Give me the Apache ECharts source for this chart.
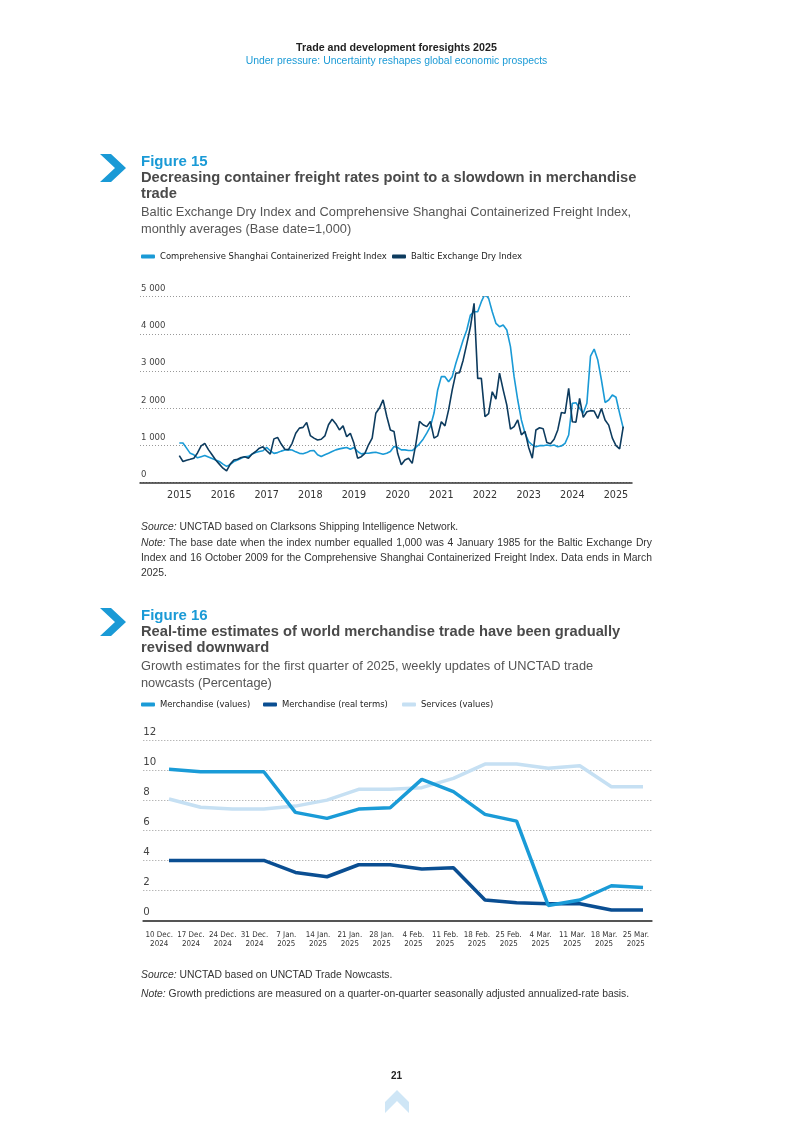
<!DOCTYPE html>
<html><head><meta charset="utf-8">
<script src="https://cdn.jsdelivr.net/npm/echarts@6/dist/echarts.min.js"></script>
<style>
html,body{margin:0;padding:0;background:#fff;}
#page{position:relative;width:793px;height:1121px;overflow:hidden;font-family:'Liberation Sans',Arial,sans-serif;}
#chart{position:absolute;left:0;top:0;width:793px;height:1121px;}
.t{position:absolute;white-space:nowrap;}
.fig{color:#1a9ad6;font-weight:bold;font-size:15px;line-height:16px;left:141px;}
.ttl{color:#4a4a4a;font-weight:bold;font-size:14.7px;line-height:16px;left:141px;}
.sub{color:#555;font-size:12.8px;line-height:17px;left:141px;}
.src{color:#333;font-size:10.35px;line-height:15px;left:141px;}
.jl{display:block;width:511px;text-align:justify;text-align-last:justify;}
</style></head>
<body><div id="page">
<div id="chart"></div>
<div class="t" style="left:0;width:793px;text-align:center;top:40px;font-weight:bold;font-size:10.7px;line-height:14px;color:#222">Trade and development foresights 2025</div>
<div class="t" style="left:0;width:793px;text-align:center;top:54px;font-size:10.4px;line-height:14px;color:#1a9ad6">Under pressure: Uncertainty reshapes global economic prospects</div>

<svg class="t" style="left:0;top:0" width="793" height="1121">
<polygon points="100,154 111,154 126,168 111,182 100,182 115,168" fill="#1a9ad6"/>
<polygon points="100,608 111,608 126,622 111,636 100,636 115,622" fill="#1a9ad6"/>
<polygon points="385,1102 397,1090 409,1102 409,1113 397,1101 385,1113" fill="#cfe6f6"/>
</svg>

<div class="t fig" style="top:153px">Figure 15</div>
<div class="t ttl" style="top:169px">Decreasing container freight rates point to a slowdown in merchandise<br>trade</div>
<div class="t sub" style="top:202.5px">Baltic Exchange Dry Index and Comprehensive Shanghai Containerized Freight Index,<br>monthly averages (Base date=1,000)</div>

<div class="t src" style="top:518.5px"><i>Source:</i> UNCTAD based on Clarksons Shipping Intelligence Network.</div>
<div class="t src" style="top:534.5px">
<span class="jl"><i>Note:</i> The base date when the index number equalled 1,000 was 4 January 1985 for the Baltic Exchange Dry</span>
<span class="jl">Index and 16 October 2009 for the Comprehensive Shanghai Containerized Freight Index. Data ends in March</span>
<span style="display:block">2025.</span>
</div>

<div class="t fig" style="top:607px">Figure 16</div>
<div class="t ttl" style="top:623px">Real-time estimates of world merchandise trade have been gradually<br>revised downward</div>
<div class="t sub" style="top:656.5px">Growth estimates for the first quarter of 2025, weekly updates of UNCTAD trade<br>nowcasts (Percentage)</div>

<div class="t src" style="top:966.5px"><i>Source:</i> UNCTAD based on UNCTAD Trade Nowcasts.</div>
<div class="t src" style="top:985.5px"><i>Note:</i> Growth predictions are measured on a quarter-on-quarter seasonally adjusted annualized-rate basis.</div>

<div class="t" style="left:0;width:793px;text-align:center;top:1069px;font-weight:bold;font-size:10px;line-height:14px;color:#222">21</div>
</div>
<script>
// ---- Figure 15 data (monthly, Jan 2015 - Mar 2025) ----
const yearLabels = ['2015','2016','2017','2018','2019','2020','2021','2022','2023','2024','2025'];
const ccfi = [
 1060,1060,920,780,740,660,690,720,680,640,600,560,
 490,430,480,560,600,650,690,700,760,800,830,850,
 940,850,780,800,840,870,880,870,820,780,770,800,
 850,856,740,694,740,784,830,874,900,920,937,892,
 937,829,766,784,784,800,810,784,757,784,829,964,
 937,874,874,856,856,937,1036,1162,1324,1504,1865,2487,
 2846,2846,2711,2846,3205,3519,3833,4102,4506,4596,4596,4865,
 5072,4955,4596,4282,4192,4237,4102,3653,2846,2217,1679,1320,
 1095,1005,960,987,987,1005,987,1005,960,978,1050,1275,
 2127,2145,1993,1858,2127,3400,3590,3294,2756,2150,2217,2352,
 2290,1858,1454
];
const bdi = [
 720,560,595,620,650,790,980,1050,880,740,600,490,
 380,305,490,600,620,670,690,650,760,830,920,955,
 850,760,1170,1210,1030,890,880,1050,1320,1460,1480,1610,
 1260,1190,1140,1160,1250,1550,1700,1580,1410,1520,1230,1320,
 1050,650,690,780,1010,1190,1860,2000,2220,1780,1410,1370,
 780,470,600,650,510,1030,1640,1550,1500,1640,1190,1250,
 1630,1520,1950,2490,2940,2950,3290,3730,4190,4820,2800,2800,
 1770,1850,2440,2240,2940,2490,2080,1430,1500,1680,1280,1370,
 940,650,1410,1470,1440,1070,1040,1160,1410,1880,1860,2530,
 1630,1620,2260,1750,1900,1930,1920,1720,1990,1680,1540,1190,
 990,900,1500
];
// ---- Figure 16 data (weekly) ----
const weekLabels = ['10 Dec.\n2024','17 Dec.\n2024','24 Dec.\n2024','31 Dec.\n2024','7 Jan.\n2025','14 Jan.\n2025','21 Jan.\n2025','28 Jan.\n2025','4 Feb.\n2025','11 Feb.\n2025','18 Feb.\n2025','25 Feb.\n2025','4 Mar.\n2025','11 Mar.\n2025','18 Mar.\n2025','25 Mar.\n2025'];
const merchValues = [10.1,9.93,9.93,9.93,7.22,6.82,7.44,7.53,9.42,8.6,7.09,6.64,1.02,1.38,2.33,2.22];
const merchReal   = [4.02,4.02,4.02,4.02,3.22,2.93,3.73,3.73,3.44,3.53,1.38,1.2,1.13,1.13,0.71,0.71];
const servicesValues = [8.11,7.56,7.44,7.44,7.64,8.04,8.76,8.76,8.87,9.49,10.44,10.44,10.16,10.33,8.93,8.93];

const C_CCFI='#1a9ad6', C_BDI='#0d3b5e', C_MV='#1a9bd7', C_MR='#0a4e92', C_SV='#c6e0f3';

// pick a condensed font if installed, otherwise a regular one; size text to the reference widths
const ctx = document.createElement('canvas').getContext('2d');
function has(f){
  const s='Comprehensive Shanghai 2015';
  ctx.font='20px monospace'; const a=ctx.measureText(s).width;
  ctx.font="20px '"+f+"', monospace"; const b=ctx.measureText(s).width;
  return Math.abs(a-b)>0.5;
}
const fam = ['Liberation Sans Narrow','Arial Narrow','DejaVu Sans Condensed','Roboto Condensed','Liberation Sans'].find(has) || 'sans-serif';
const narrow = "'"+fam+"', sans-serif";
function sizeFor(str, px){ ctx.font="10px "+narrow; return 10*px/ctx.measureText(str).width; }
const fsLegend = sizeFor('Comprehensive Shanghai Containerized Freight Index', 227);
const fsYear = sizeFor('2015', 24.5);
const fsY1 = sizeFor('5 000', 24.5);
const fsWeek = sizeFor('10 Dec.', 27.5);
const fsY2 = sizeFor('10', 13);

const legBase = {icon:'roundRect', itemWidth:14, itemHeight:4, padding:0, selectedMode:false,
  textStyle:{fontFamily:narrow, fontSize:fsLegend, color:'#222'}};
const yearTicks = yearLabels.map((y,i)=>i*12);

const chart = echarts.init(document.getElementById('chart'));
chart.setOption({
  animation:false,
  legend:[
    Object.assign({left:141, top:252, data:['Comprehensive Shanghai Containerized Freight Index']}, legBase),
    Object.assign({left:392, top:252, data:['Baltic Exchange Dry Index']}, legBase),
    Object.assign({left:141, top:700, data:['Merchandise (values)']}, legBase),
    Object.assign({left:263, top:700, data:['Merchandise (real terms)']}, legBase),
    Object.assign({left:402, top:700, data:['Services (values)']}, legBase)
  ],
  grid:[
    {left:140, width:492, top:296.7, height:185.6},
    {left:143.3, width:508.4, top:740.7, height:180}
  ],
  xAxis:[
    {gridIndex:0, type:'value', min:-10.8, max:124.4,
     axisLine:{onZero:false, lineStyle:{color:'#333', width:1.5}}, axisTick:{show:false}, splitLine:{show:false},
     axisLabel:{customValues:yearTicks, formatter:v=>yearLabels[Math.round(v/12)], margin:7, hideOverlap:false,
       fontFamily:narrow, fontSize:fsYear, color:'#333'}},
    // week labels (category bands)
    {gridIndex:1, type:'category', data:weekLabels, boundaryGap:true,
     axisLine:{onZero:false, lineStyle:{color:'#555', width:2}}, axisTick:{show:false}, splitLine:{show:false},
     axisLabel:{interval:0, margin:9, hideOverlap:false,
       fontFamily:narrow, fontSize:fsWeek, lineHeight:9.5, color:'#333'}},
    // weekly positions of the plotted points
    {gridIndex:1, type:'value', min:-0.813, max:15.275, show:false}
  ],
  yAxis:[
    {gridIndex:0, type:'value', min:0, max:5000, interval:1000,
     axisLine:{show:false, onZero:false}, axisTick:{show:false},
     splitLine:{lineStyle:{type:[1,2], color:'#999', width:1}},
     axisLabel:{inside:true, margin:1, align:'left', verticalAlign:'bottom', padding:[0,0,3,0],
       formatter:v=>String(v).replace(/\B(?=(\d{3})+(?!\d))/g,' '),
       fontFamily:narrow, fontSize:fsY1, color:'#444'}},
    {gridIndex:1, type:'value', min:0, max:12, interval:2,
     axisLine:{show:false, onZero:false}, axisTick:{show:false},
     splitLine:{lineStyle:{type:[1,2], color:'#999', width:1}},
     axisLabel:{inside:true, margin:0, align:'left', verticalAlign:'bottom', padding:[0,0,3,0],
       fontFamily:narrow, fontSize:fsY2, color:'#444'}}
  ],
  series:[
    {name:'Comprehensive Shanghai Containerized Freight Index', type:'line', xAxisIndex:0, yAxisIndex:0,
     data:ccfi.map((v,i)=>[i,v]), showSymbol:false, color:C_CCFI, lineStyle:{width:1.6, color:C_CCFI}},
    {name:'Baltic Exchange Dry Index', type:'line', xAxisIndex:0, yAxisIndex:0,
     data:bdi.map((v,i)=>[i,v]), showSymbol:false, color:C_BDI, lineStyle:{width:1.6, color:C_BDI}},
    {name:'Services (values)', type:'line', xAxisIndex:2, yAxisIndex:1,
     data:servicesValues.map((v,i)=>[i,v]), showSymbol:false, color:C_SV, lineStyle:{width:3.5, color:C_SV}},
    {name:'Merchandise (real terms)', type:'line', xAxisIndex:2, yAxisIndex:1,
     data:merchReal.map((v,i)=>[i,v]), showSymbol:false, color:C_MR, lineStyle:{width:3.5, color:C_MR}},
    {name:'Merchandise (values)', type:'line', xAxisIndex:2, yAxisIndex:1,
     data:merchValues.map((v,i)=>[i,v]), showSymbol:false, color:C_MV, lineStyle:{width:3.5, color:C_MV}}
  ]
});
</script>
</body></html>
